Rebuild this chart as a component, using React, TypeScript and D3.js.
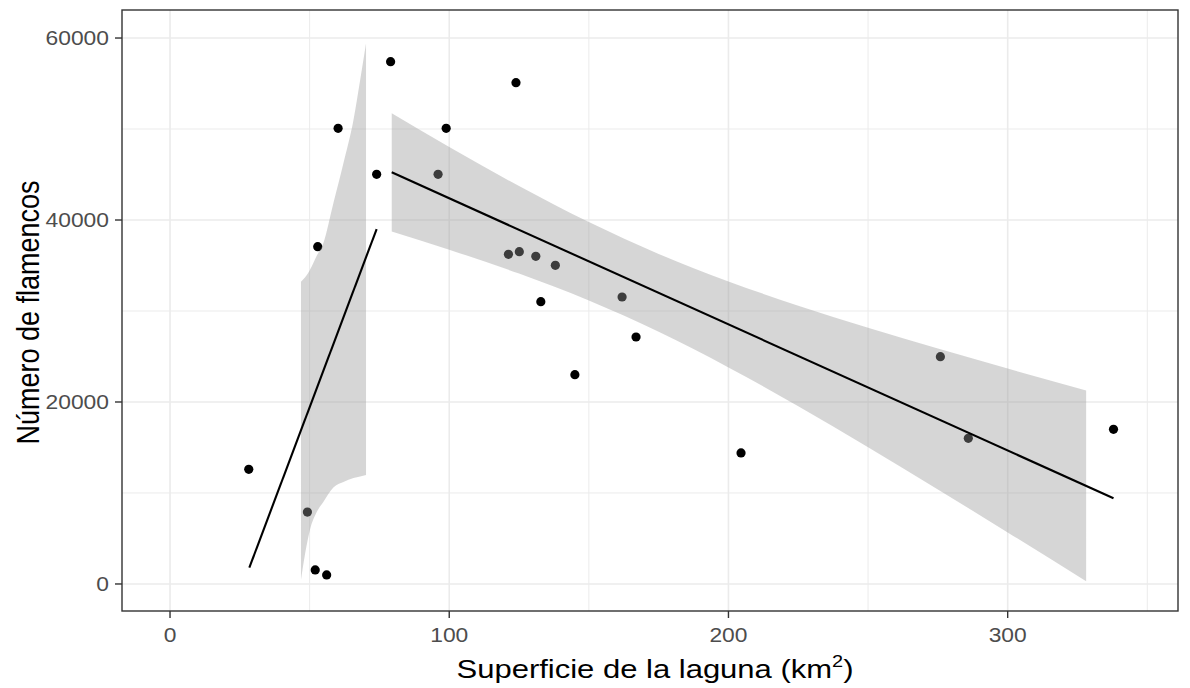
import React from "react";
import * as d3 from "d3";

// ---- data ----
const pointX = [28.2, 49.2, 52.0, 56.1, 52.9, 60.2, 74.0, 79.0, 96.0, 98.9, 121.2, 123.9, 125.1, 131.0, 132.8, 138.0, 145.0, 161.9, 166.9, 204.5, 275.9, 285.9, 337.9];
const pointY = [12600, 7900, 1540, 990, 37070, 50080, 45020, 57400, 45020, 50080, 36230, 55090, 36520, 36010, 31020, 35020, 23000, 31540, 27140, 14400, 24980, 16010, 17000];

const leftFitX = [28.4, 74.0];
const leftFitY = [1790, 39010];
const leftBandX = [46.9, 48.4, 50.1, 52.5, 54.9, 58.5, 62.1, 65.7, 68.1, 70.2];
const leftBandLow = [440, 3370, 5930, 7870, 9010, 10600, 11200, 11650, 11810, 11980];
const leftBandHigh = [33220, 33700, 34500, 36040, 37440, 41830, 46230, 50990, 55380, 59420];

const rightFitX = [79.4, 337.9];
const rightFitY = [45240, 9418];
const rightBandX = [79.4, 100, 125, 150, 175, 200, 225, 250, 275, 300, 328.1];
const rightBandLow = [38735, 36740, 34110, 31150, 27710, 23800, 19530, 15030, 10390, 5670, 290];
const rightBandHigh = [51745, 48030, 43730, 39770, 36270, 33250, 30590, 28160, 25870, 23670, 21250];

const xTicks = [0, 100, 200, 300];
const xMinor = [50, 150, 250, 350];
const yTicks = [0, 20000, 40000, 60000];
const yMinor = [10000, 30000, 50000];

const xTitle = "Superficie de la laguna (km";
const yTitle = "Número de flamencos";

// ---- layout ----
const W = 1190;
const H = 688;
const PL = 122, PR = 1178, PT = 10, PB = 611;
const SX = 1.17; // horizontal text stretch seen in the reference
const FONT = "'Liberation Sans', Arial, Helvetica, sans-serif";

export default function App() {
  const x = d3.scaleLinear().domain([-17.2, 361]).range([PL, PR]);
  const y = d3.scaleLinear().domain([-2970, 63080]).range([PB, PT]);

  type B = { x: number; lo: number; hi: number };
  const area = d3
    .area<B>()
    .x((d) => x(d.x))
    .y0((d) => y(d.lo))
    .y1((d) => y(d.hi))
    .curve(d3.curveMonotoneX);
  const line = d3
    .line<[number, number]>()
    .x((d) => x(d[0]))
    .y((d) => y(d[1]));

  const leftBand: B[] = leftBandX.map((v, i) => ({ x: v, lo: leftBandLow[i], hi: leftBandHigh[i] }));
  const rightBand: B[] = rightBandX.map((v, i) => ({ x: v, lo: rightBandLow[i], hi: rightBandHigh[i] }));
  const leftFit: [number, number][] = leftFitX.map((v, i) => [v, leftFitY[i]]);
  const rightFit: [number, number][] = rightFitX.map((v, i) => [v, rightFitY[i]]);

  return (
    <svg
      width={W}
      height={H}
      style={{ position: "absolute", left: 0, top: 0, background: "#fff" }}
      fontFamily={FONT}
    >
      <rect x={0} y={0} width={W} height={H} fill="#fff" />
      {/* grid */}
      {xMinor.map((t) => (
        <line key={"xm" + t} x1={x(t)} x2={x(t)} y1={PT} y2={PB} stroke="#ebebeb" strokeWidth={1} />
      ))}
      {yMinor.map((t) => (
        <line key={"ym" + t} x1={PL} x2={PR} y1={y(t)} y2={y(t)} stroke="#ebebeb" strokeWidth={1} />
      ))}
      {xTicks.map((t) => (
        <line key={"xg" + t} x1={x(t)} x2={x(t)} y1={PT} y2={PB} stroke="#ebebeb" strokeWidth={1.6} />
      ))}
      {yTicks.map((t) => (
        <line key={"yg" + t} x1={PL} x2={PR} y1={y(t)} y2={y(t)} stroke="#ebebeb" strokeWidth={1.6} />
      ))}

      {/* points */}
      {pointX.map((v, i) => (
        <circle key={"p" + i} cx={x(v)} cy={y(pointY[i])} r={4.6} fill="#000" />
      ))}

      {/* smooths */}
      <path d={area(leftBand) || ""} fill="#999999" fillOpacity={0.4} />
      <path d={area(rightBand) || ""} fill="#999999" fillOpacity={0.4} />
      <path d={line(leftFit) || ""} fill="none" stroke="#000" strokeWidth={2.1} />
      <path d={line(rightFit) || ""} fill="none" stroke="#000" strokeWidth={2.1} />

      {/* panel border */}
      <rect x={PL} y={PT} width={PR - PL} height={PB - PT} fill="none" stroke="#333333" strokeWidth={1.4} />

      {/* axes ticks */}
      {xTicks.map((t) => (
        <g key={"xt" + t}>
          <line x1={x(t)} x2={x(t)} y1={PB} y2={PB + 7} stroke="#333333" strokeWidth={1.4} />
          <text
            transform={`translate(${x(t)},${PB + 31}) scale(${SX},1)`}
            textAnchor="middle"
            fontSize={19.5}
            fill="#4d4d4d"
          >
            {t}
          </text>
        </g>
      ))}
      {yTicks.map((t) => (
        <g key={"yt" + t}>
          <line x1={PL - 7} x2={PL} y1={y(t)} y2={y(t)} stroke="#333333" strokeWidth={1.4} />
          <text
            transform={`translate(${PL - 13},${y(t) + 7}) scale(${SX},1)`}
            textAnchor="end"
            fontSize={19.5}
            fill="#4d4d4d"
          >
            {t}
          </text>
        </g>
      ))}

      {/* axis titles */}
      <text
        transform={`translate(${655},${678}) scale(${SX},1)`}
        textAnchor="middle"
        fontSize={26.5}
        fill="#000"
      >
        {xTitle}
        <tspan fontSize={17} dy={-11}>2</tspan>
        <tspan dy={11}>)</tspan>
      </text>
      <text
        transform={`translate(${39},${(PT + PB) / 2 + 2}) scale(${SX},1) rotate(-90)`}
        textAnchor="middle"
        fontSize={27}
        fill="#000"
      >
        {yTitle}
      </text>
    </svg>
  );
}
